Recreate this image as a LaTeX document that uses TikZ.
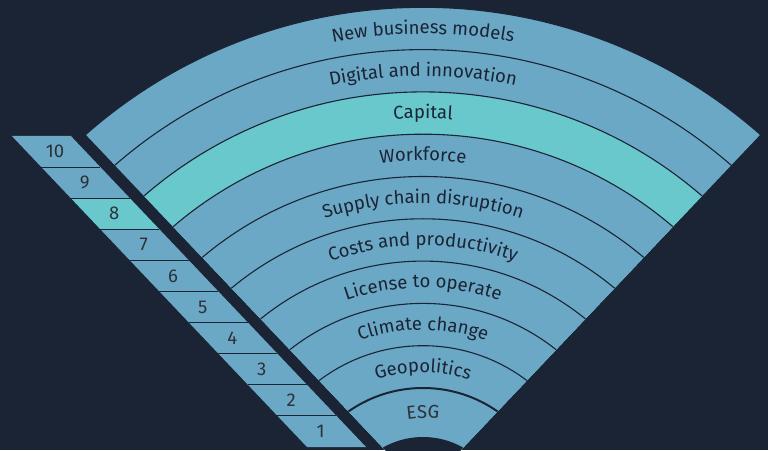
\documentclass[tikz,border=0pt]{standalone}
\usepackage{fontspec}
\setmainfont{Fira Sans}
\usetikzlibrary{decorations.text}
\definecolor{navy}{HTML}{1B2434}
\definecolor{band}{HTML}{6AA8C6}
\definecolor{capital}{HTML}{68C8CB}
\definecolor{numgray}{HTML}{2E3139}
\tikzset{
  ring/.style={navy, line width=1.1pt},
  numlabel/.style={text=numgray, font=\fontsize{18.5}{18.5}\selectfont, inner sep=0pt},
}
\begin{document}
\begin{tikzpicture}[x=1pt,y=1pt]
  \useasboundingbox (0,0) rectangle (768,450);
  \fill[navy] (0,0) rectangle (768,450);
  \coordinate (c) at (423,-68);

  \begin{scope}
   \clip (0,0) rectangle (768,450);
   \clip (423,-40) -- +(133.5:720) -- +(46.5:720) -- cycle;
   \fill[band] (c) circle[radius=510.7];
   \fill[capital] (c) circle[radius=426.1];
   \fill[band] (c) circle[radius=383.8];
   \foreach \k in {1,...,9} {
    \draw[ring] (c) circle[radius=130+42.3*\k];
   }
   \draw[ring, line width=2pt] (c) circle[radius=130];
   \fill[navy] (c) circle[radius=81];
  \end{scope}

  \path[decorate, decoration={text along path, text align=center,
    text={|\fontsize{18.5}{18.5}\selectfont\color{numgray}|ESG}}]
    ([shift={(160:100)}]c) arc[start angle=160, end angle=20, radius=100];
  \foreach \k/\t in {1/Geopolitics, 2/Climate change, 3/License to operate,
    4/Costs and productivity, 5/Supply chain disruption, 6/Workforce,
    7/Capital, 8/Digital and innovation, 9/New business models} {
   \pgfmathsetmacro\r{130+42.3*(\k-0.5)-5.5}
   \path[decorate, decoration={text along path, text align=center,
     text={|\fontsize{18.5}{18.5}\selectfont\color{navy}|\t}}]
     ([shift={(150:\r)}]c) arc[start angle=150, end angle=30, radius=\r];
  }

  \foreach \k/\c in {1/band, 2/band, 3/band, 4/band, 5/band,
    6/band, 7/band, 8/capital, 9/band, 10/band} {
   \pgfmathsetmacro\ya{3+31.1*(\k-1)}
   \pgfmathsetmacro\yb{\ya+31.1}
   \pgfmathsetmacro\xa{307-(\ya-3)*0.949}
   \pgfmathsetmacro\xb{307-(\yb-3)*0.949}
   \fill[\c] (\xa,\ya) -- (\xa+59,\ya) -- (\xb+59,\yb) -- (\xb,\yb) -- cycle;
   \node[numlabel] (n\k) at ({(\xa+\xb)/2+28.5},{(\ya+\yb)/2}) {\k};
  }
  \foreach \k in {1,...,9} {
   \pgfmathsetmacro\ya{3+31.1*\k}
   \pgfmathsetmacro\xa{307-(\ya-3)*0.949}
   \draw[ring] (\xa,\ya) -- (\xa+59,\ya);
  }
\end{tikzpicture}
\end{document}
